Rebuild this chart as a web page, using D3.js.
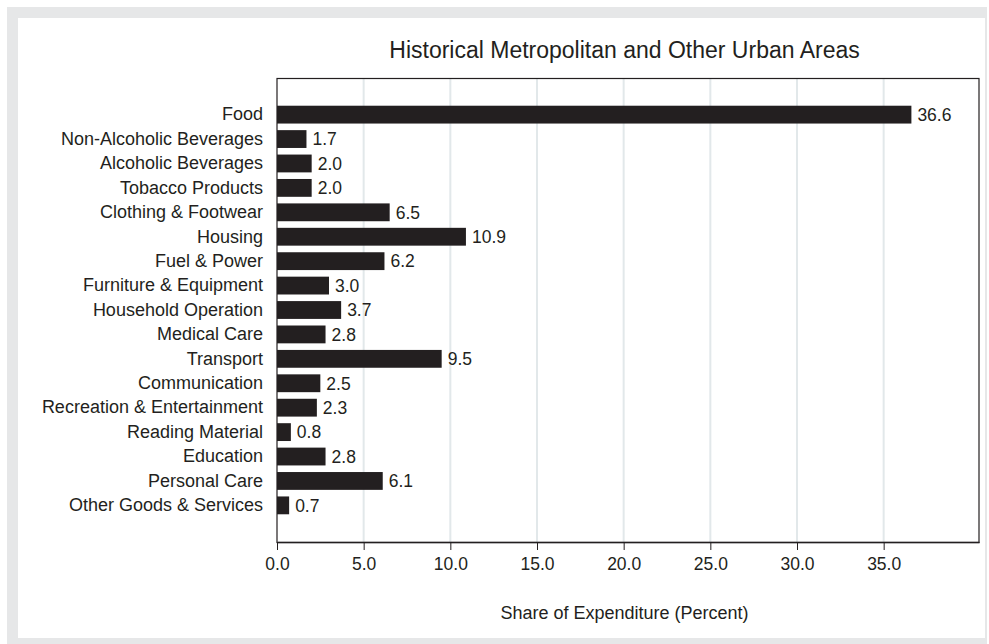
<!DOCTYPE html>
<html>
<head>
<meta charset="utf-8">
<script src="https://cdn.jsdelivr.net/npm/d3@7"></script>
<style>
  html, body { margin: 0; padding: 0; background: #ffffff; }
  svg { display: block; font-family: "Liberation Sans", Arial, sans-serif; }
</style>
</head>
<body>
<svg id="chart" width="989" height="644"></svg>
<script>
const categories = [
  "Food", "Non-Alcoholic Beverages", "Alcoholic Beverages", "Tobacco Products",
  "Clothing & Footwear", "Housing", "Fuel & Power", "Furniture & Equipment",
  "Household Operation", "Medical Care", "Transport", "Communication",
  "Recreation & Entertainment", "Reading Material", "Education",
  "Personal Care", "Other Goods & Services"
];
const shares = [36.6, 1.7, 2.0, 2.0, 6.5, 10.9, 6.2, 3.0, 3.7, 2.8, 9.5, 2.5, 2.3, 0.8, 2.8, 6.1, 0.7];
const xTicks = [0, 5, 10, 15, 20, 25, 30, 35];
const title = "Historical Metropolitan and Other Urban Areas";
const xTitle = "Share of Expenditure (Percent)";

const ink = "#231f20";
const fontFam = "'Liberation Sans', Arial, sans-serif";
const svg = d3.select("#chart");

// outer gray frame and white panel
svg.append("rect").attr("x", 7).attr("y", 7).attr("width", 980).attr("height", 640).attr("fill", "#e6e7e8");
svg.append("rect").attr("x", 18).attr("y", 18).attr("width", 967).attr("height", 620).attr("fill", "#ffffff");

const mLeft = 277, mRight = 979, mTop = 78, mBottom = 542;
const slot = (mBottom - mTop) / (categories.length + 2);

const x = d3.scaleLinear().domain([0, 40.5]).range([mLeft, mRight]);
const y = d3.scaleBand().domain(categories)
  .range([mTop + slot, mBottom - slot]).paddingInner(0.27).paddingOuter(0.135);

// gridlines
svg.append("g").selectAll("line").data(xTicks.filter(d => d > 0)).join("line")
  .attr("x1", d => x(d)).attr("x2", d => x(d))
  .attr("y1", mTop).attr("y2", mBottom)
  .attr("stroke", "#e2e8ea").attr("stroke-width", 2);

// frame
svg.append("rect").attr("x", mLeft).attr("y", mTop + 0.5)
  .attr("width", mRight - mLeft).attr("height", mBottom - mTop)
  .attr("fill", "none").attr("stroke", ink).attr("stroke-width", 1.2);

// bars
svg.append("g").selectAll("rect").data(categories).join("rect")
  .attr("x", x(0))
  .attr("y", d => y(d))
  .attr("width", (d, i) => x(shares[i]) - x(0))
  .attr("height", y.bandwidth())
  .attr("fill", ink);

// value labels
svg.append("g").selectAll("text").data(categories).join("text")
  .attr("x", (d, i) => x(shares[i]) + 6)
  .attr("y", d => y(d) + y.bandwidth() / 2)
  .attr("dy", "0.36em")
  .attr("font-size", 17.5).attr("fill", ink).attr("font-family", fontFam)
  .text((d, i) => shares[i].toFixed(1));

// category labels
svg.append("g").attr("transform", `translate(${mLeft},0)`)
  .call(d3.axisLeft(y).tickSize(0).tickPadding(14))
  .call(g => g.select(".domain").remove())
  .call(g => g.selectAll("text").attr("font-size", 18).attr("fill", ink)
    .attr("font-family", fontFam));

// x axis
svg.append("g").attr("transform", `translate(0,${mBottom})`)
  .call(d3.axisBottom(x).tickValues(xTicks).tickFormat(d3.format(".1f"))
    .tickSize(8).tickSizeOuter(0).tickPadding(8))
  .call(g => g.select(".domain").attr("stroke", ink).attr("stroke-width", 1.5))
  .call(g => g.selectAll(".tick line").attr("stroke", ink))
  .call(g => g.selectAll("text").attr("font-size", 17.5).attr("fill", ink)
    .attr("font-family", fontFam));

// titles
svg.append("text").attr("x", 624.5).attr("y", 58)
  .attr("text-anchor", "middle").attr("font-size", 23).attr("fill", ink)
  .attr("font-family", fontFam).text(title);
svg.append("text").attr("x", 624.5).attr("y", 619)
  .attr("text-anchor", "middle").attr("font-size", 18).attr("fill", ink)
  .attr("font-family", fontFam).text(xTitle);
</script>
</body>
</html>
